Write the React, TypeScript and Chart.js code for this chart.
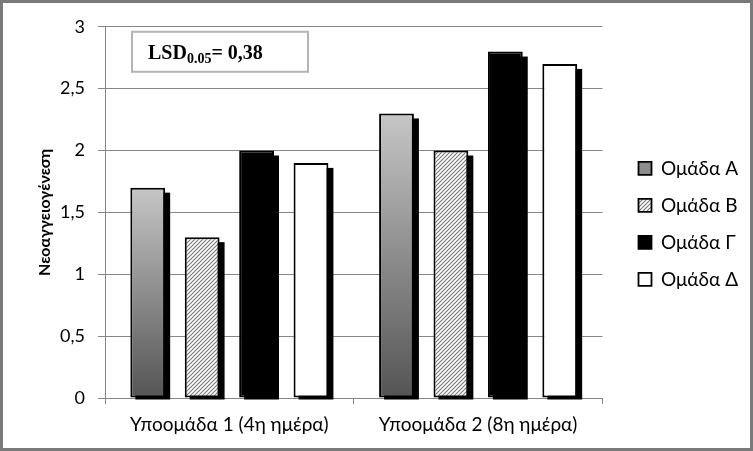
import React, { useEffect, useRef } from 'react';
import { Chart, registerables } from 'chart.js';

Chart.register(...registerables);

const categories = ['Υποομάδα 1 (4η ημέρα)', 'Υποομάδα 2 (8η ημέρα)'];
const seriesNames = ['Ομάδα Α', 'Ομάδα Β', 'Ομάδα Γ', 'Ομάδα Δ'];
const groupA = [1.7, 2.3];
const groupB = [1.3, 2.0];
const groupG = [2.0, 2.8];
const groupD = [1.9, 2.7];
const yMin = 0;
const yMax = 3;
const yStep = 0.5;
const yAxisTitle = 'Νεοαγγειογένεση';
const lsdMain = 'LSD';
const lsdSub = '0.05';
const lsdRest = '= 0,38';

const FONT = 'Lato';

function makeHatch(): CanvasPattern | string {
  const c = document.createElement('canvas');
  c.width = 4;
  c.height = 4;
  const g = c.getContext('2d');
  if (!g) return '#aaa';
  g.fillStyle = '#ffffff';
  g.fillRect(0, 0, 4, 4);
  g.strokeStyle = '#777777';
  g.lineWidth = 1.1;
  g.beginPath();
  g.moveTo(-1, 5);
  g.lineTo(5, -1);
  g.moveTo(-1, 1);
  g.lineTo(1, -1);
  g.moveTo(3, 5);
  g.lineTo(5, 3);
  g.stroke();
  const p = g.createPattern(c, 'repeat');
  return p || '#aaa';
}

const shadowPlugin = {
  id: 'barShadow',
  beforeDatasetsDraw(chart: any) {
    const ctx = chart.ctx;
    ctx.save();
    ctx.fillStyle = '#000000';
    chart.data.datasets.forEach((_ds: any, i: number) => {
      const meta = chart.getDatasetMeta(i);
      meta.data.forEach((el: any) => {
        const p = el.getProps(['x', 'y', 'base', 'width'], true);
        ctx.fillRect(p.x - p.width / 2 + 5, p.y + 5, p.width, p.base - p.y - 3);
      });
    });
    ctx.restore();
  },
};

const lsdPlugin = {
  id: 'lsdBox',
  afterDraw(chart: any) {
    const ctx = chart.ctx;
    const ca = chart.chartArea;
    const x = ca.left + 27;
    const y = ca.top + 5;
    const w = 176;
    const h = 40;
    ctx.save();
    ctx.fillStyle = '#ffffff';
    ctx.fillRect(x, y, w, h);
    ctx.strokeStyle = '#b4b4b4';
    ctx.lineWidth = 2;
    ctx.strokeRect(x, y, w, h);
    ctx.fillStyle = '#000000';
    ctx.textBaseline = 'alphabetic';
    ctx.textAlign = 'left';
    const base = y + 27;
    let tx = x + 16;
    ctx.font = 'bold 20px "Liberation Serif"';
    ctx.fillText(lsdMain, tx, base);
    tx += ctx.measureText(lsdMain).width;
    ctx.font = 'bold 14px "Liberation Serif"';
    ctx.fillText(lsdSub, tx, base + 4);
    tx += ctx.measureText(lsdSub).width;
    ctx.font = 'bold 20px "Liberation Serif"';
    ctx.fillText(lsdRest, tx, base);
    ctx.restore();
  },
};

export default function App() {
  const ref = useRef<HTMLCanvasElement | null>(null);

  useEffect(() => {
    document.body.style.margin = '0';
    const canvas = ref.current;
    if (!canvas) return;
    const hatch = makeHatch();

    const gradientFill = (ctx: any) => {
      const chart = ctx.chart;
      if (!chart.chartArea || ctx.type !== 'data') return '#8a8a8a';
      const ys = chart.scales.y;
      const top = ys.getPixelForValue(ctx.raw);
      const bottom = ys.getPixelForValue(0);
      const g = chart.ctx.createLinearGradient(0, top, 0, bottom);
      g.addColorStop(0, '#c6c6c6');
      g.addColorStop(1, '#545454');
      return g;
    };

    const legendFills: any[] = ['#8c8c8c', hatch, '#000000', '#ffffff'];

    const common = {
      borderColor: '#000000',
      borderWidth: 2,
      borderSkipped: false as const,
      barPercentage: 0.64,
      categoryPercentage: 0.875,
    };

    const chart = new Chart(canvas, {
      type: 'bar',
      data: {
        labels: categories,
        datasets: [
          { label: seriesNames[0], data: groupA, backgroundColor: gradientFill, ...common },
          { label: seriesNames[1], data: groupB, backgroundColor: hatch as any, ...common },
          { label: seriesNames[2], data: groupG, backgroundColor: '#000000', ...common },
          { label: seriesNames[3], data: groupD, backgroundColor: '#ffffff', ...common },
        ],
      },
      options: {
        animation: false,
        responsive: true,
        maintainAspectRatio: false,
        layout: { padding: { top: 21, right: 6, left: 0, bottom: 0 } },
        plugins: {
          tooltip: { enabled: false },
          legend: {
            position: 'right',
            align: 'center',
            fullSize: false,
            title: {
              display: true,
              text: ' ',
              font: { size: 10 },
              padding: { top: 11, bottom: 0 },
            },
            labels: {
              boxWidth: 13,
              boxHeight: 13,
              padding: 18,
              color: '#000000',
              font: { family: FONT, size: 19 },
              generateLabels: () =>
                seriesNames.map((n, i) => ({
                  text: n,
                  fillStyle: legendFills[i],
                  strokeStyle: '#000000',
                  fontColor: '#000000',
                  lineWidth: 1.8,
                  datasetIndex: i,
                  hidden: false,
                })),
            },
          },
        },
        scales: {
          x: {
            afterFit: (s: any) => {
              s.height = 50;
            },
            grid: {
              display: true,
              drawOnChartArea: false,
              drawTicks: true,
              tickLength: 6,
              color: '#868686',
              offset: true,
            },
            border: { display: true, color: '#868686', width: 1 },
            ticks: {
              color: '#000000',
              font: { family: FONT, size: 19 },
              padding: 9,
            },
          },
          y: {
            min: yMin,
            max: yMax,
            afterFit: (s: any) => {
              s.width = 102;
            },
            ticks: {
              stepSize: yStep,
              color: '#000000',
              font: { family: FONT, size: 18 },
              padding: 13,
              callback: (v: any) => String(v).replace('.', ','),
            },
            grid: {
              color: '#868686',
              lineWidth: 1,
              drawTicks: true,
              tickLength: 7,
            },
            border: { display: true, color: '#868686', width: 1 },
            title: {
              display: true,
              text: yAxisTitle,
              color: '#000000',
              font: { family: FONT, size: 16, weight: 'bold' },
              padding: { top: 32, bottom: 0 },
            },
          },
          y2: {
            position: 'right',
            display: true,
            min: yMin,
            max: yMax,
            afterFit: (s: any) => {
              s.width = 18;
            },
            grid: { display: false },
            border: { display: false },
            ticks: { display: false },
          },
        },
      },
      plugins: [shadowPlugin, lsdPlugin],
    });

    return () => {
      chart.destroy();
    };
  }, []);

  return (
    <div
      style={{
        width: 753,
        height: 451,
        boxSizing: 'border-box',
        border: '3px solid #7a7a7a',
        background: '#ffffff',
        position: 'relative',
      }}
    >
      <div style={{ width: 747, height: 445, position: 'relative' }}>
        <canvas ref={ref} />
      </div>
    </div>
  );
}
